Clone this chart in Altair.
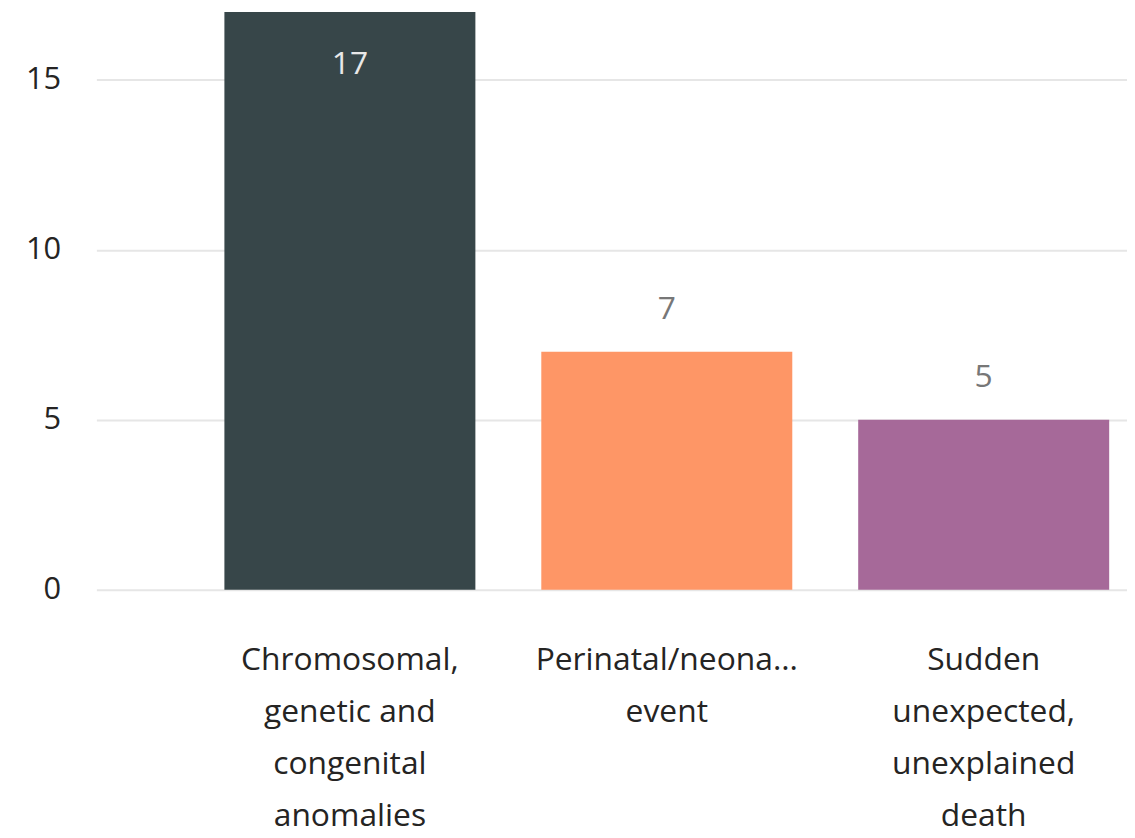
import altair as alt
import pandas as pd

categories = [
    "Chromosomal, genetic and congenital anomalies",
    "Perinatal/neonatal event",
    "Sudden unexpected, unexplained death",
]
label_lines = [
    ["Chromosomal,", "genetic and", "congenital", "anomalies"],
    ["Perinatal/neona...", "event"],
    ["Sudden", "unexpected,", "unexplained", "death"],
]
values = [17, 7, 5]
colors = ["#374649", "#FE9666", "#A66999"]
y_ticks = [0, 5, 10, 15]

df = pd.DataFrame({"category": categories, "value": values})

FONT = "Open Sans"

parts = []
for c, lines in zip(categories, label_lines):
    arr = "[" + ",".join("'" + l + "'" for l in lines) + "]"
    parts.append(f"datum.value == '{c}' ? {arr}")
label_expr = " : ".join(parts) + " : datum.value"

x_enc = alt.X(
    "category:N",
    sort=categories,
    title=None,
    scale=alt.Scale(range=[0, 1149], paddingInner=0.208, paddingOuter=0.404),
    axis=alt.Axis(
        labelExpr=label_expr,
        labelAngle=0,
        labelFont=FONT,
        labelFontSize=32,
        labelColor="#252423",
        labelLineHeight=52.5,
        labelBaseline="top",
        labelPadding=55,
        ticks=False,
        domain=False,
        labelLimit=400,
    ),
)
y_scale = alt.Scale(domain=[0, 17], nice=False)

base = alt.Chart(df)

bars = base.mark_bar().encode(
    x=x_enc,
    y=alt.Y(
        "value:Q",
        scale=y_scale,
        title=None,
        axis=alt.Axis(
            values=y_ticks,
            labelFont=FONT,
            labelFontSize=31,
            labelColor="#252423",
            labelPadding=36,
            ticks=False,
            domain=False,
            grid=True,
            gridColor="#e6e6e6",
            gridWidth=2,
        ),
    ),
    color=alt.Color("category:N", scale=alt.Scale(domain=categories, range=colors), legend=None),
)

inside = base.transform_filter("datum.value >= 16").mark_text(
    font=FONT, fontSize=32, color="#e8e8e8", baseline="middle", dy=53
).encode(
    x=alt.X("category:N", sort=categories),
    y=alt.Y("value:Q", scale=y_scale),
    text="value:Q",
)
outside = base.transform_filter("datum.value < 16").mark_text(
    font=FONT, fontSize=32, color="#777777", baseline="middle", dy=-43
).encode(
    x=alt.X("category:N", sort=categories),
    y=alt.Y("value:Q", scale=y_scale),
    text="value:Q",
)

chart = (
    alt.layer(bars, inside, outside)
    .properties(
        width=1038,
        height=582,
        autosize=alt.AutoSizeParams(type="none"),
        padding={"left": 89, "top": 1, "right": 0, "bottom": 247},
    )
    .configure_view(stroke=None)
)

chart.save("out.html", embed_options={"renderer": "svg", "actions": False})
